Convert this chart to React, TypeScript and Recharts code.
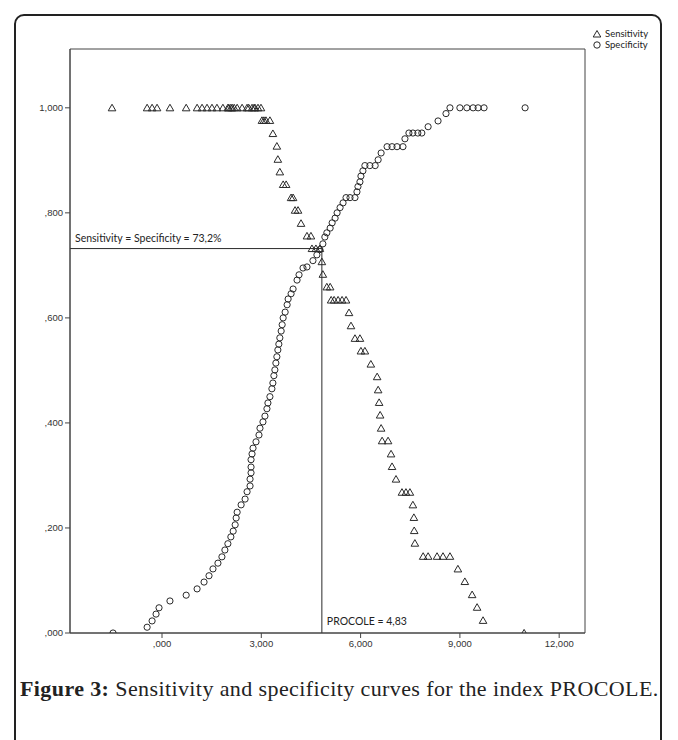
import React from "react";
import {
  ScatterChart,
  Scatter,
  XAxis,
  YAxis,
  ReferenceLine,
  ReferenceArea,
} from "recharts";

// ---- data ----
const sensitivityX = [
  -1.51, -0.45, -0.3, -0.15, 0.24, 0.73, 1.06, 1.21, 1.36, 1.51, 1.66, 1.84, 1.99, 2.02, 2.08, 2.12, 2.18, 2.27, 2.42,
  2.57, 2.62, 2.72, 2.78, 2.81, 2.9, 2.99,
  3.02, 3.08, 3.14, 3.26,
  3.35, 3.47, 3.5, 3.56, 3.66, 3.75, 3.9, 3.96, 4.02, 4.11, 4.2, 4.38, 4.5, 4.53, 4.65, 4.77, 4.83, 4.86, 4.98, 5.08,
  5.11, 5.2, 5.32, 5.44, 5.56, 5.65, 5.71, 5.83, 5.98, 6.01, 6.13, 6.31, 6.5, 6.53, 6.56, 6.59, 6.62, 6.65, 6.83, 6.92,
  6.95, 7.07, 7.25, 7.37, 7.49, 7.58, 7.61, 7.62, 7.64, 7.89, 8.04, 8.31, 8.49, 8.7, 8.94, 9.15, 9.37, 9.52, 9.7, 10.94,
];
const sensitivityY = [
  1, 1, 1, 1, 1, 1, 1, 1, 1, 1, 1, 1, 1, 1, 1, 1, 1, 1, 1,
  1, 1, 1, 1, 1, 1, 1,
  0.976, 0.976, 0.976, 0.976,
  0.951, 0.927, 0.902, 0.878, 0.854, 0.854, 0.829, 0.829, 0.805, 0.805, 0.78, 0.756, 0.756, 0.732, 0.732, 0.732, 0.707, 0.683, 0.659, 0.659,
  0.634, 0.634, 0.634, 0.634, 0.634, 0.61, 0.585, 0.561, 0.561, 0.537, 0.537, 0.512, 0.488, 0.463, 0.439, 0.415, 0.39, 0.366, 0.366, 0.341,
  0.317, 0.293, 0.268, 0.268, 0.268, 0.244, 0.22, 0.195, 0.171, 0.146, 0.146, 0.146, 0.146, 0.146, 0.122, 0.098, 0.073, 0.049, 0.024, 0,
];

const specificityX = [
  -1.48, -0.45, -0.3, -0.18, -0.09, 0.24, 0.73, 1.06, 1.27, 1.42, 1.54, 1.69, 1.81, 1.9, 1.99, 2.08, 2.15, 2.21, 2.24, 2.27,
  2.39, 2.51, 2.57, 2.66, 2.66, 2.69, 2.69, 2.69, 2.72, 2.75, 2.84, 2.93, 2.96, 3.05, 3.11, 3.17, 3.2, 3.26, 3.32, 3.35,
  3.38, 3.41, 3.44, 3.47, 3.5, 3.53, 3.56, 3.6, 3.63, 3.66, 3.72, 3.78, 3.81, 3.9, 3.96, 4.08, 4.14, 4.26, 4.38, 4.56,
  4.68, 4.77, 4.86, 4.92, 4.98, 5.08, 5.14, 5.23, 5.29, 5.38, 5.47, 5.56, 5.68, 5.83, 5.89, 5.92, 5.98, 6.01, 6.07, 6.13,
  6.28, 6.44, 6.53, 6.62, 6.8, 6.95, 7.1, 7.28, 7.34, 7.46, 7.58, 7.73, 7.85, 8.04, 8.34, 8.58, 8.7, 9.0, 9.21, 9.4,
  9.55, 9.73, 10.97,
];
const specificityY = [
  0, 0.011, 0.023, 0.036, 0.048, 0.061, 0.072, 0.084, 0.097, 0.109, 0.122, 0.133, 0.145, 0.158, 0.17, 0.183, 0.194, 0.206, 0.219, 0.23,
  0.244, 0.255, 0.269, 0.28, 0.293, 0.305, 0.316, 0.33, 0.341, 0.352, 0.364, 0.377, 0.39, 0.402, 0.413, 0.427, 0.438, 0.45, 0.465, 0.476,
  0.49, 0.501, 0.514, 0.526, 0.539, 0.55, 0.562, 0.575, 0.587, 0.6, 0.611, 0.625, 0.636, 0.646, 0.655, 0.672, 0.682, 0.695, 0.697, 0.709,
  0.72, 0.73, 0.741, 0.754, 0.762, 0.771, 0.781, 0.79, 0.8, 0.81, 0.819, 0.829, 0.829, 0.829, 0.84, 0.85, 0.859, 0.87, 0.88, 0.89,
  0.89, 0.89, 0.901, 0.914, 0.926, 0.926, 0.926, 0.926, 0.941, 0.952, 0.952, 0.952, 0.952, 0.964, 0.975, 0.989, 1, 1, 1, 1,
  1, 1, 1,
];

const yTicks = [0, 0.2, 0.4, 0.6, 0.8, 1.0];
const yTickLabels = [",000", ",200", ",400", ",600", ",800", "1,000"];
const xTicks = [0, 3, 6, 9, 12];
const xTickLabels = [",000", "3,000", "6,000", "9,000", "12,000"];

const xDomain: [number, number] = [-2.78, 12.78];
const yDomain: [number, number] = [0, 1.112];

const cutoff = 4.83;
const crossValue = 0.732;
const crossLabel = "Sensitivity = Specificity = 73,2%";
const cutoffLabel = "PROCOLE = 4,83";
const seriesNames = ["Sensitivity", "Specificity"];

const sensitivityData = sensitivityX.map((x, i) => ({ x, y: sensitivityY[i] }));
const specificityData = specificityX.map((x, i) => ({ x, y: specificityY[i] }));

const INK = "#2a2a2a";

const Triangle = (props: any) => {
  const { cx, cy } = props;
  if (cx == null || cy == null) return null;
  return (
    <path
      d={`M${cx},${cy - 3.6} L${cx + 3.8},${cy + 3} L${cx - 3.8},${cy + 3} Z`}
      fill="none"
      stroke={INK}
      strokeWidth={1}
    />
  );
};

const Circle = (props: any) => {
  const { cx, cy } = props;
  if (cx == null || cy == null) return null;
  return <circle cx={cx} cy={cy} r={3.1} fill="none" stroke={INK} strokeWidth={1} />;
};

const tickStyle = { fontFamily: "Liberation Sans, Arial, sans-serif", fontSize: 9.5, fill: "#333" };

export default function App() {
  return (
    <div style={{ position: "absolute", left: 0, top: 0, width: 678, height: 740, overflow: "hidden", background: "#fff" }}>
      <div
        style={{
          position: "absolute",
          left: 14,
          top: 14,
          width: 648,
          height: 780,
          border: "2px solid #222",
          borderRadius: 10,
          boxSizing: "border-box",
        }}
      />
      <div style={{ position: "absolute", left: 0, top: 0 }}>
        <ScatterChart width={678} height={700} margin={{ top: 49, right: 93, left: 20, bottom: 37 }}>
          <XAxis
            type="number"
            dataKey="x"
            domain={xDomain}
            allowDataOverflow
            ticks={xTicks}
            tickFormatter={(v: number) => xTickLabels[xTicks.indexOf(v)] ?? ""}
            tick={tickStyle}
            tickSize={5}
            tickMargin={2}
            height={30}
            stroke="#444"
          />
          <YAxis
            type="number"
            dataKey="y"
            domain={yDomain}
            allowDataOverflow
            ticks={yTicks}
            tickFormatter={(v: number) => yTickLabels[yTicks.indexOf(v)] ?? ""}
            tick={tickStyle}
            tickSize={5}
            tickMargin={2}
            width={50}
            stroke="#444"
          />
          <ReferenceArea
            x1={xDomain[0]}
            x2={xDomain[1]}
            y1={yDomain[0]}
            y2={yDomain[1]}
            fill="none"
            stroke="#444"
            strokeWidth={1}
            fillOpacity={0}
          />
          <ReferenceLine
            segment={[
              { x: xDomain[0], y: crossValue },
              { x: cutoff, y: crossValue },
            ]}
            stroke={INK}
            strokeWidth={1}
            label={(p: any) => (
              <text
                x={(p.viewBox?.x ?? 70) + 5}
                y={(p.viewBox?.y ?? 248) - 7}
                fontFamily="Lato, sans-serif"
                fontSize={10.5}
                fill="#222"
              >
                {crossLabel}
              </text>
            )}
          />
          <ReferenceLine
            segment={[
              { x: cutoff, y: 0 },
              { x: cutoff, y: crossValue },
            ]}
            stroke={INK}
            strokeWidth={1}
            label={(p: any) => (
              <text
                x={(p.viewBox?.x ?? 322) + 5}
                y={633 - 8}
                fontFamily="Lato, sans-serif"
                fontSize={10.5}
                fill="#222"
              >
                {cutoffLabel}
              </text>
            )}
          />
          <Scatter
            name={seriesNames[0]}
            data={sensitivityData}
            shape={Triangle}
            isAnimationActive={false}
          />
          <Scatter
            name={seriesNames[1]}
            data={specificityData}
            shape={Circle}
            isAnimationActive={false}
          />
        </ScatterChart>
      </div>
      <div
        style={{
          position: "absolute",
          left: 592,
          top: 28,
          fontFamily: "Lato, sans-serif",
          fontSize: 9.5,
          color: "#222",
          lineHeight: "11px",
        }}
      >
        <div style={{ display: "flex", alignItems: "center", height: 11 }}>
          <svg width={10} height={10}>
            <path d="M5,1.5 L8.8,8 L1.2,8 Z" fill="none" stroke={INK} strokeWidth={1} />
          </svg>
          <span style={{ marginLeft: 3 }}>{seriesNames[0]}</span>
        </div>
        <div style={{ display: "flex", alignItems: "center", height: 11 }}>
          <svg width={10} height={10}>
            <circle cx={5} cy={5} r={3.2} fill="none" stroke={INK} strokeWidth={1} />
          </svg>
          <span style={{ marginLeft: 3 }}>{seriesNames[1]}</span>
        </div>
      </div>
      <div
        style={{
          position: "absolute",
          left: 20,
          top: 676,
          fontFamily: "Liberation Serif, serif",
          fontSize: 22,
          letterSpacing: 0.4,
          color: "#222",
          whiteSpace: "nowrap",
        }}
      >
        <b>Figure 3:</b> Sensitivity and specificity curves for the index PROCOLE.
      </div>
    </div>
  );
}
